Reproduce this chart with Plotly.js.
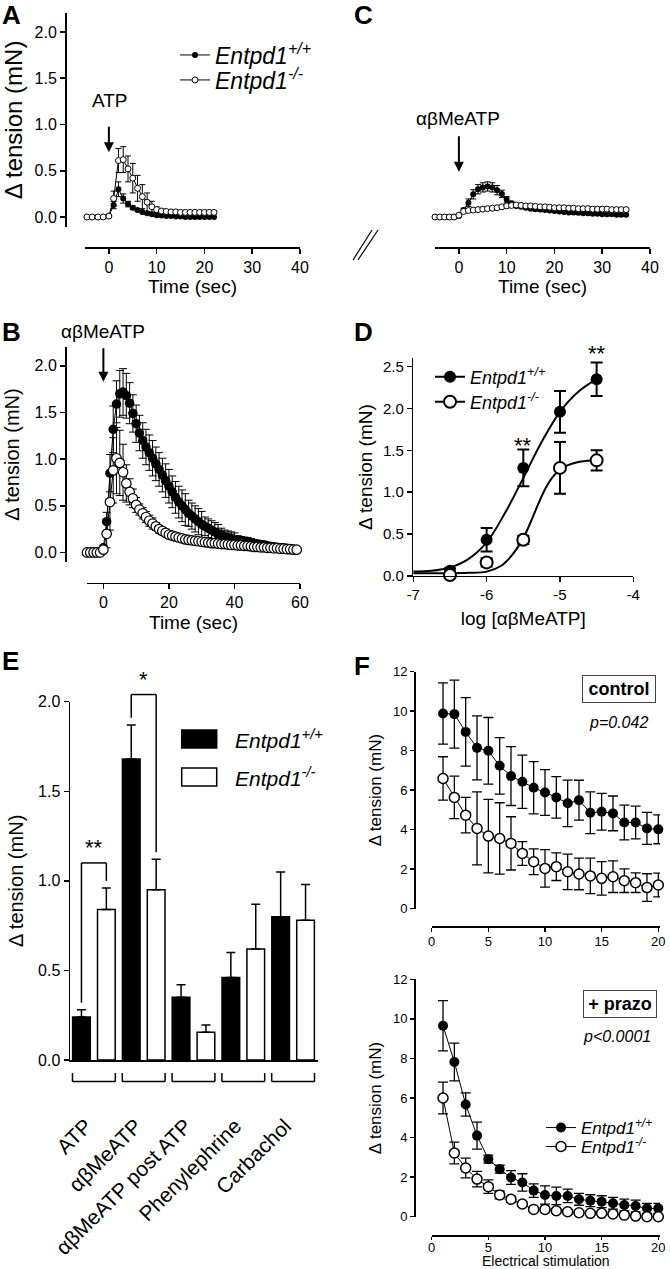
<!DOCTYPE html>
<html><head><meta charset="utf-8">
<script src="https://cdn.plot.ly/plotly-3.0.1.min.js"></script>
<style>html,body{margin:0;padding:0;background:#fff;}#chart{width:670px;height:1269px;}</style>
</head><body><div id="chart"></div>
<script>
// ---------------- DATA ----------------
// Panel A (ATP, time course)
const A_time = [-4.6,-3.5,-2.3,-1.2,0,1,2,3,4,5,6,7,8,9,10,11,12,13,14,15,16,17,18,19,20,21,22];
const A_wt = [0,0,0,0,0.01,0.13,0.30,0.20,0.14,0.10,0.075,0.055,0.04,0.03,0.02,0.015,0.01,0.01,0.005,0.005,0,0,0,0,0,0,0];
const A_wt_err = [0,0,0,0,0,0.04,0.08,0.05,0.03,0.02,0.015,0.01,0.01,0.01,0.01,0.005,0.005,0.005,0.005,0.005,0.005,0.005,0.005,0.005,0.005,0.005,0.005];
const A_ko = [0,0,0,0,0.01,0.2,0.61,0.62,0.52,0.42,0.31,0.22,0.16,0.11,0.08,0.065,0.06,0.055,0.055,0.05,0.05,0.05,0.05,0.05,0.05,0.05,0.05];
const A_ko_err = [0,0,0,0,0,0.08,0.13,0.14,0.14,0.16,0.14,0.13,0.1,0.06,0.03,0.02,0.01,0.01,0.01,0.01,0.01,0.01,0.01,0.01,0.01,0.01,0.01];

// Panel C (abMeATP after ATP, time course)
const C_time = [-5,-4,-3,-2,-1,0,1,2,3,4,5,6,7,8,9,10,11,12,13,14,15,16,17,18,19,20,21,22,23,24,25,26,27,28,29,30,31,32,33,34,35];
const C_wt = [0,0,0,0,0,0.01,0.075,0.155,0.245,0.30,0.32,0.33,0.32,0.29,0.25,0.19,0.15,0.12,0.11,0.10,0.09,0.085,0.08,0.075,0.07,0.065,0.06,0.055,0.05,0.05,0.045,0.04,0.04,0.035,0.035,0.03,0.03,0.03,0.025,0.025,0.025];
const C_wt_err = [0,0,0,0,0,0,0.02,0.04,0.05,0.05,0.05,0.05,0.05,0.05,0.04,0.03,0.02,0.01,0.01,0.01,0.01,0.01,0.01,0.01,0.01,0.01,0.01,0.01,0.01,0.01,0.01,0.01,0.01,0.01,0.01,0.01,0.01,0.01,0.01,0.01,0.01];
const C_ko = [0,0,0,0,0,0.02,0.06,0.07,0.075,0.08,0.085,0.09,0.095,0.10,0.11,0.12,0.125,0.13,0.125,0.12,0.12,0.115,0.11,0.11,0.105,0.10,0.10,0.10,0.095,0.095,0.09,0.09,0.09,0.085,0.085,0.085,0.085,0.08,0.08,0.08,0.08];
const C_ko_err = [0,0,0,0,0,0,0.015,0.015,0.015,0.015,0.015,0.015,0.015,0.015,0.015,0.015,0.015,0.015,0.015,0.015,0.015,0.015,0.015,0.015,0.015,0.015,0.015,0.015,0.015,0.015,0.015,0.015,0.015,0.015,0.015,0.015,0.015,0.015,0.015,0.015,0.015];

// Panel B (abMeATP, time course)
const B_time = [-5,-4,-3,-2,-1,0,1,2,3,4,5,6,7,8,9,10,11,12,13,14,15,16,17,18,19,20,21,22,23,24,25,26,27,28,29,30,31,32,33,34,35,36,37,38,39,40,41,42,43,44,45,46,47,48,49,50,51,52,53,54,55,56,57,58,59];
const B_wt = [0,0,0,0,0,0.05,0.33,0.85,1.32,1.59,1.70,1.72,1.68,1.60,1.49,1.38,1.28,1.20,1.13,1.07,1.01,0.95,0.89,0.83,0.77,0.71,0.65,0.59,0.54,0.50,0.46,0.42,0.39,0.36,0.33,0.30,0.28,0.26,0.24,0.22,0.20,0.19,0.17,0.16,0.15,0.14,0.13,0.12,0.115,0.11,0.10,0.095,0.09,0.085,0.08,0.07,0.065,0.06,0.055,0.05,0.05,0.045,0.04,0.035,0.03];
const B_wt_err = [0,0,0,0,0,0,0.1,0.2,0.25,0.25,0.25,0.25,0.24,0.22,0.2,0.2,0.19,0.19,0.19,0.19,0.19,0.18,0.18,0.18,0.18,0.18,0.17,0.17,0.17,0.17,0.17,0.14,0.14,0.14,0.14,0.14,0.1,0.1,0.1,0.1,0.1,0.07,0.07,0.07,0.07,0.07,0.05,0.05,0.05,0.05,0.05,0.04,0.04,0.04,0.04,0.04,0.02,0.02,0.02,0.02,0.02,0.02,0.02,0.02,0.02];
const B_ko = [0,0,0,0,0,0.03,0.2,0.54,0.88,1.01,0.96,0.86,0.74,0.65,0.58,0.51,0.46,0.42,0.38,0.34,0.31,0.28,0.25,0.23,0.21,0.19,0.18,0.17,0.16,0.15,0.14,0.135,0.13,0.125,0.12,0.115,0.11,0.105,0.10,0.10,0.095,0.09,0.09,0.085,0.08,0.08,0.075,0.075,0.07,0.07,0.065,0.06,0.06,0.055,0.055,0.05,0.05,0.045,0.045,0.04,0.04,0.035,0.035,0.03,0.03];
const B_ko_err = [0,0,0,0,0,0,0.15,0.3,0.35,0.38,0.35,0.3,0.2,0.14,0.1,0.08,0.06,0.06,0.06,0.06,0.06,0.04,0.04,0.04,0.04,0.04,0.03,0.03,0.03,0.03,0.03,0.03,0.03,0.03,0.03,0.03,0.03,0.03,0.03,0.03,0.03,0.03,0.03,0.03,0.03,0.03,0.03,0.03,0.03,0.03,0.03,0.03,0.03,0.03,0.03,0.03,0.03,0.03,0.03,0.03,0.03,0.03,0.03,0.03,0.03];

// Panel D (concentration-response)
const D_logc = [-6.5,-6,-5.5,-5,-4.5];
const D_wt = [0.06,0.43,1.29,1.96,2.35];
const D_wt_err = [0.03,0.14,0.22,0.25,0.2];
const D_ko = [0.01,0.16,0.43,1.29,1.38];
const D_ko_err = [0.02,0.05,0.05,0.31,0.12];
const D_fit_wt_x = [-7,-6.75,-6.5,-6.25,-6,-5.75,-5.5,-5.25,-5,-4.75,-4.5];
const D_fit_wt_y = [0.05,0.06,0.1,0.2,0.4,0.75,1.17,1.6,1.96,2.2,2.35];
const D_fit_ko_x = [-7,-6.5,-6.25,-6,-5.8,-5.7,-5.6,-5.5,-5.4,-5.3,-5.2,-5.1,-5,-4.9,-4.75,-4.5];
const D_fit_ko_y = [0.03,0.03,0.035,0.05,0.12,0.2,0.31,0.45,0.64,0.85,1.04,1.18,1.27,1.32,1.36,1.38];
const D_sig_x = [-5.5,-4.5];
const D_sig_y = [1.56,2.66];

// Panel E (bars)
const E_cats = ['ATP','αβMeATP','αβMeATP post ATP','Phenylephrine','Carbachol'];
const E_wt = [0.24,1.68,0.35,0.46,0.80];
const E_wt_err = [0.04,0.19,0.07,0.14,0.25];
const E_ko = [0.84,0.95,0.155,0.62,0.78];
const E_ko_err = [0.12,0.17,0.04,0.25,0.20];
const E_zero = [0,0,0,0,0];
const E_sig_cat = [0,1];
const E_sig_label = ['**','*'];
const E_sig_top = [1.10,2.04];

// Panel F (electrical stimulation)
const F_stim = [1,2,3,4,5,6,7,8,9,10,11,12,13,14,15,16,17,18,19,20];
const F_ctrl_wt = [9.88,9.85,8.95,8.14,7.99,7.23,6.71,6.42,6.12,5.88,5.63,5.33,5.49,4.85,4.9,4.82,4.36,4.36,4.06,4.01];
const F_ctrl_wt_err = [1.55,1.72,1.74,1.62,1.69,1.43,1.49,1.35,1.32,1.16,1.05,1.18,1.01,1.06,0.93,0.88,0.88,0.83,0.81,0.73];
const F_ctrl_ko = [6.59,5.63,4.73,4.06,3.67,3.55,3.30,2.79,2.37,2.03,2.12,1.86,1.75,1.65,1.53,1.61,1.41,1.31,1.06,1.19];
const F_ctrl_ko_err = [1.1,1.08,0.9,1.85,1.86,1.81,1.35,0.6,0.65,0.95,0.7,0.9,0.8,0.9,0.85,0.8,0.6,0.5,0.7,0.6];
const F_praz_wt = [9.65,7.82,5.67,4.1,2.91,2.4,1.98,1.73,1.32,1.1,1.05,1.05,0.88,0.81,0.76,0.68,0.59,0.54,0.42,0.42];
const F_praz_wt_err = [1.27,0.95,0.59,0.68,0.2,0.2,0.35,0.44,0.34,0.46,0.44,0.34,0.3,0.3,0.3,0.3,0.3,0.3,0.25,0.25];
const F_praz_ko = [6.0,3.22,2.46,1.9,1.52,1.1,0.88,0.64,0.37,0.37,0.3,0.25,0.2,0.17,0.17,0.14,0.08,0.03,0.0,0.0];
const F_praz_ko_err = [0.8,0.55,0.5,0.39,0.34,0.2,0.15,0.1,0.1,0.1,0.1,0.1,0.1,0.1,0.1,0.1,0.1,0.1,0.1,0.1];

// ---------------- LAYOUT HELPERS ----------------
const W = 670, H = 1269;
const px = v => v / W;
const py = v => 1 - v / H;
const FONT = '"Liberation Sans", Arial, Helvetica, sans-serif';
const WT_NAME = '<i>Entpd1<sup>+/+</sup></i>';
const KO_NAME = '<i>Entpd1<sup>-/-</sup></i>';

function axis(o, tsize) {
  return Object.assign({
    showline: true, linecolor: 'black', linewidth: 1.5,
    ticks: 'outside', ticklen: 5, tickwidth: 1.5, tickcolor: 'black',
    showgrid: false, zeroline: false, fixedrange: true,
    tickfont: {family: FONT, size: tsize || 16, color: 'black'}
  }, o);
}
function ttl(text, size, standoff) { return {text: text, font: {family: FONT, size: size, color: 'black'}, standoff: standoff}; }
function errs(arr, w, th) { return {type: 'data', array: arr, visible: true, color: 'black', thickness: th, width: w}; }
const filled = s => ({symbol: 'circle', size: s, color: 'black', line: {color: 'black', width: 0}});
const openM = (s, lw) => ({symbol: 'circle', size: s, color: 'white', line: {color: 'black', width: lw}});
function legendBox(x, yc, size) {
  return {x: px(x), y: py(yc), xanchor: 'left', yanchor: 'middle', bgcolor: 'rgba(0,0,0,0)', borderwidth: 0,
          font: {family: FONT, size: size, color: 'black'}, itemwidth: 30, tracegroupgap: 0};
}

// E y-mapping to paper (same numbers as yaxis5 domain/range)
const E_dom = [py(1060), py(701.7)], E_rng = [0, 2];
const eY = v => E_dom[0] + (E_dom[1] - E_dom[0]) * (v - E_rng[0]) / (E_rng[1] - E_rng[0]);
// D y-mapping to paper (same numbers as yaxis4 domain/range)
const D_dom = [py(575.8), py(358.3)], D_rng = [0, 2.6];
const dY = v => D_dom[0] + (D_dom[1] - D_dom[0]) * (v - D_rng[0]) / (D_rng[1] - D_rng[0]);

const traces = [];
// A
traces.push({type:'scatter', x:A_time, y:A_wt, xaxis:'x', yaxis:'y', mode:'lines+markers', marker:filled(6), line:{color:'black', width:1}, error_y:errs(A_wt_err,3,1), name:WT_NAME, legend:'legend', cliponaxis:false});
traces.push({type:'scatter', x:A_time, y:A_ko, xaxis:'x', yaxis:'y', mode:'lines+markers', marker:openM(6,1), line:{color:'black', width:1}, error_y:errs(A_ko_err,3,1), name:KO_NAME, legend:'legend4', cliponaxis:false});
// C
traces.push({type:'scatter', x:C_time, y:C_wt, xaxis:'x3', yaxis:'y3', mode:'lines+markers', marker:filled(6), line:{color:'black', width:1}, error_y:errs(C_wt_err,3,1), showlegend:false, cliponaxis:false});
traces.push({type:'scatter', x:C_time, y:C_ko, xaxis:'x3', yaxis:'y3', mode:'lines+markers', marker:openM(6,1), line:{color:'black', width:1}, error_y:errs(C_ko_err,3,1), showlegend:false, cliponaxis:false});
// B
traces.push({type:'scatter', x:B_time, y:B_wt, xaxis:'x2', yaxis:'y2', mode:'lines+markers', marker:filled(9.5), line:{color:'black', width:1}, error_y:errs(B_wt_err,4,1), showlegend:false, cliponaxis:false});
traces.push({type:'scatter', x:B_time, y:B_ko, xaxis:'x2', yaxis:'y2', mode:'lines+markers', marker:openM(9.5,1.2), line:{color:'black', width:1}, error_y:errs(B_ko_err,4,1), showlegend:false, cliponaxis:false});
// D
traces.push({type:'scatter', x:D_fit_wt_x, y:D_fit_wt_y, xaxis:'x4', yaxis:'y4', mode:'lines', line:{color:'black', width:2, shape:'spline'}, showlegend:false});
traces.push({type:'scatter', x:D_fit_ko_x, y:D_fit_ko_y, xaxis:'x4', yaxis:'y4', mode:'lines', line:{color:'black', width:2, shape:'spline'}, showlegend:false});
traces.push({type:'scatter', x:D_logc, y:D_wt, xaxis:'x4', yaxis:'y4', mode:'markers', marker:filled(12), error_y:errs(D_wt_err,6,2), showlegend:false, cliponaxis:false});
traces.push({type:'scatter', x:D_logc, y:D_ko, xaxis:'x4', yaxis:'y4', mode:'markers', marker:openM(12,2), error_y:errs(D_ko_err,6,2), showlegend:false, cliponaxis:false});
traces.push({type:'scatter', x:[null], y:[null], xaxis:'x4', yaxis:'y4', mode:'lines+markers', marker:filled(12), line:{color:'black', width:2}, name:WT_NAME, legend:'legend2'});
traces.push({type:'scatter', x:[null], y:[null], xaxis:'x4', yaxis:'y4', mode:'lines+markers', marker:openM(12,2), line:{color:'black', width:2}, name:KO_NAME, legend:'legend5'});
// E
traces.push({type:'bar', x:E_cats, y:E_wt, xaxis:'x5', yaxis:'y5', marker:{color:'black', line:{color:'black', width:1.5}}, error_y:{type:'data', symmetric:false, array:E_wt_err, arrayminus:E_zero, color:'black', thickness:1.5, width:4.5}, showlegend:false});
traces.push({type:'bar', x:E_cats, y:E_ko, xaxis:'x5', yaxis:'y5', marker:{color:'white', line:{color:'black', width:1.5}}, error_y:{type:'data', symmetric:false, array:E_ko_err, arrayminus:E_zero, color:'black', thickness:1.5, width:4.5}, showlegend:false});
// F top
traces.push({type:'scatter', x:F_stim, y:F_ctrl_wt, xaxis:'x6', yaxis:'y6', mode:'lines+markers', marker:filled(10), line:{color:'black', width:1}, error_y:errs(F_ctrl_wt_err,5,1.3), showlegend:false, cliponaxis:false});
traces.push({type:'scatter', x:F_stim, y:F_ctrl_ko, xaxis:'x6', yaxis:'y6', mode:'lines+markers', marker:openM(10,1.5), line:{color:'black', width:1}, error_y:errs(F_ctrl_ko_err,5,1.3), showlegend:false, cliponaxis:false});
// F bottom
traces.push({type:'scatter', x:F_stim, y:F_praz_wt, xaxis:'x7', yaxis:'y7', mode:'lines+markers', marker:filled(10), line:{color:'black', width:1}, error_y:errs(F_praz_wt_err,5,1.3), name:WT_NAME, legend:'legend3', cliponaxis:false});
traces.push({type:'scatter', x:F_stim, y:F_praz_ko, xaxis:'x7', yaxis:'y7', mode:'lines+markers', marker:openM(10,1.5), line:{color:'black', width:1}, error_y:errs(F_praz_ko_err,5,1.3), name:KO_NAME, legend:'legend6', cliponaxis:false});

const ann = [];
const letter = (t, x, y) => ann.push({text:'<b>'+t+'</b>', x:px(x), y:py(y), xref:'paper', yref:'paper', xanchor:'left', yanchor:'middle', showarrow:false, font:{family:FONT, size:26, color:'black'}});
letter('A', 0, 15); letter('C', 352, 15); letter('B', 0, 332); letter('D', 352, 332); letter('E', 0, 661); letter('F', 352, 666);
const ptext = (t, x, y, size, extra) => ann.push(Object.assign({text:t, x:px(x), y:py(y), xref:'paper', yref:'paper', xanchor:'center', yanchor:'middle', showarrow:false, font:{family:FONT, size:size, color:'black'}}, extra || {}));
// stimulus labels and arrows (arrow tip at t = 0)
const STIM_T = 0;
ptext('ATP', 110, 100, 19);
ptext('αβMeATP', 458, 118, 19);
ptext('αβMeATP', 103, 331, 19);
const arrow = (xr, yr, y, ay) => ann.push({text:'', x:STIM_T, y:y, xref:xr, yref:yr, ax:0, ay:ay, axref:'pixel', ayref:'pixel', showarrow:true, arrowhead:2, arrowsize:1, arrowwidth:2, arrowcolor:'black', standoff:0});
arrow('x', 'y', 0.70, -27);
arrow('x3', 'y3', 0.49, -37);
arrow('x2', 'y2', 1.83, -35);
// D significance
D_sig_x.forEach((x, i) => ann.push({text:'**', x:x, y:dY(D_sig_y[i]), xref:'x4', yref:'paper', showarrow:false, xanchor:'center', yanchor:'middle', font:{family:FONT, size:22, color:'black'}}));
// E significance labels
E_sig_cat.forEach((c, i) => ann.push({text:E_sig_label[i], x:c, y:eY(E_sig_top[i]) + 0.012, xref:'x5', yref:'paper', showarrow:false, xanchor:'center', yanchor:'middle', font:{family:FONT, size:22, color:'black'}}));
// E legend texts
ptext(WT_NAME, 233, 739, 21, {xanchor:'left'});
ptext(KO_NAME, 233, 777, 21, {xanchor:'left'});
// F boxes and p-values
ptext('<b>control</b>', 618.7, 689, 18, {bordercolor:'#444', borderwidth:1, borderpad:3, bgcolor:'white', width:66});
ptext('<i>p=0.042</i>', 618, 722.7, 16);
ptext('<b>+ prazo</b>', 619.5, 1004, 18, {bordercolor:'#444', borderwidth:1, borderpad:3, bgcolor:'white', width:66});
ptext('<i>p&lt;0.0001</i>', 616.7, 1036, 16);

const shapes = [];
const lineP = (x0, y0, x1, y1, w) => shapes.push({type:'line', xref:'paper', yref:'paper', x0:px(x0), y0:py(y0), x1:px(x1), y1:py(y1), line:{color:'black', width:w || 1.2}});
// axis break marks between A and C
lineP(353, 260, 372, 230, 1.2);
lineP(358, 260, 378, 230, 1.2);
// E significance brackets
const E_off = 0.25;
E_sig_cat.forEach((c, i) => {
  const wtTop = E_wt[c] + E_wt_err[c] + 0.04, koTop = E_ko[c] + E_ko_err[c] + 0.04;
  const ln = (x0, y0, x1, y1) => shapes.push({type:'line', xref:'x5', yref:'paper', x0:x0, x1:x1, y0:eY(y0), y1:eY(y1), line:{color:'black', width:1.5}});
  ln(c - E_off, wtTop, c - E_off, E_sig_top[i]);
  ln(c - E_off, E_sig_top[i], c + E_off, E_sig_top[i]);
  ln(c + E_off, E_sig_top[i], c + E_off, koTop);
});
// E group brackets below axis
E_cats.forEach((c, i) => {
  const l = (x0, y0, x1, y1) => shapes.push({type:'line', xref:'x5', yref:'paper', x0:x0, x1:x1, y0:py(y0), y1:py(y1), line:{color:'black', width:1.5}});
  l(i - 0.43, 1073, i - 0.43, 1081.5);
  l(i - 0.43, 1081.5, i + 0.43, 1081.5);
  l(i + 0.43, 1081.5, i + 0.43, 1073);
});
// E legend swatches
shapes.push({type:'rect', xref:'paper', yref:'paper', x0:px(181.7), x1:px(216.7), y0:py(748), y1:py(730), fillcolor:'black', line:{color:'black', width:1.5}});
shapes.push({type:'rect', xref:'paper', yref:'paper', x0:px(181.7), x1:px(216.7), y0:py(786), y1:py(768), fillcolor:'white', line:{color:'black', width:1.5}});

const layout = {
  width: W, height: H, margin: {l:0, r:0, t:0, b:0},
  paper_bgcolor: 'white', plot_bgcolor: 'rgba(0,0,0,0)',
  font: {family: FONT, color: 'black'},
  hovermode: false,
  barmode: 'group', bargap: 0, bargroupgap: 0.29,
  // A
  xaxis: axis({domain:[px(85), px(300)], range:[-5, 40], anchor:'free', position:py(247), tickvals:[0,10,20,30,40], title:ttl('Time (sec)', 19, 5)}),
  yaxis: axis({domain:[py(227), py(13)], range:[-0.108, 2.205], anchor:'free', position:px(65), tickvals:[0,0.5,1,1.5,2], tickformat:'.1f', title:ttl('Δ tension (mN)', 24, 6)}),
  // B
  xaxis2: axis({domain:[px(87), px(300)], range:[-5, 60], anchor:'free', position:py(582.7), tickvals:[0,20,40,60], title:ttl('Time (sec)', 19, 5)}),
  yaxis2: axis({domain:[py(561.8), py(347.2)], range:[-0.1, 2.2], anchor:'free', position:px(65), tickvals:[0,0.5,1,1.5,2], tickformat:'.1f', title:ttl('Δ tension (mN)', 20, 8)}),
  // C
  xaxis3: axis({domain:[px(435), px(650)], range:[-5, 40], anchor:'free', position:py(247), tickvals:[0,10,20,30,40], title:ttl('Time (sec)', 19, 5)}),
  yaxis3: {domain:[py(227), py(13)], range:[-0.108, 2.205], anchor:'x3', visible:false, fixedrange:true},
  // D
  xaxis4: axis({domain:[px(413.3), px(633.3)], range:[-7, -4], anchor:'y4', tickvals:[-7,-6,-5,-4], ticktext:['-7','-6','-5','-4'], title:ttl('log [αβMeATP]', 19, 9)}, 15),
  yaxis4: axis({domain:D_dom, range:D_rng, anchor:'x4', tickvals:[0,0.5,1,1.5,2,2.5], tickformat:'.1f', title:ttl('Δ tension (mN)', 19, 5)}, 15),
  // E
  xaxis5: axis({domain:[px(70), px(318)], range:[-0.48, 4.5], anchor:'y5', type:'category', ticks:'', tickangle:-45, ticklabelstandoff:44, ticklabelshift:-8, tickfont:{family:FONT, size:21, color:'black'}}),
  yaxis5: axis({domain:E_dom, range:E_rng, anchor:'x5', tickvals:[0,0.5,1,1.5,2], tickformat:'.1f', title:ttl('Δ tension (mN)', 20, 9)}),
  // F top
  xaxis6: axis({domain:[px(431.7), px(660)], range:[0, 20.15], anchor:'free', position:py(926), tickvals:[0,5,10,15,20], ticklen:4, ticklabelstandoff:-1}, 13),
  yaxis6: axis({domain:[py(908.5), py(671.7)], range:[0, 12], anchor:'free', position:px(414), tickvals:[0,2,4,6,8,10,12], ticklen:4, title:ttl('Δ tension (mN)', 17, 5)}, 13),
  // F bottom
  xaxis7: axis({domain:[px(431.7), px(660)], range:[0, 20.15], anchor:'free', position:py(1235), tickvals:[0,5,10,15,20], ticklen:3, ticklabelstandoff:-3, title:ttl('Electrical stimulation', 14, 5)}, 13),
  yaxis7: axis({domain:[py(1216.7), py(979.3)], range:[0, 12], anchor:'free', position:px(414), tickvals:[0,2,4,6,8,10,12], ticklen:4, title:ttl('Δ tension (mN)', 17, 5)}, 13),
  legend: legendBox(175, 55, 23),
  legend4: legendBox(175, 80, 23),
  legend2: legendBox(430, 377, 18),
  legend5: legendBox(430, 402, 18),
  legend3: legendBox(541, 1128, 17),
  legend6: legendBox(541, 1147, 17),
  annotations: ann,
  shapes: shapes
};

Plotly.newPlot('chart', traces, layout, {staticPlot:true, displayModeBar:false});
</script></body></html>
